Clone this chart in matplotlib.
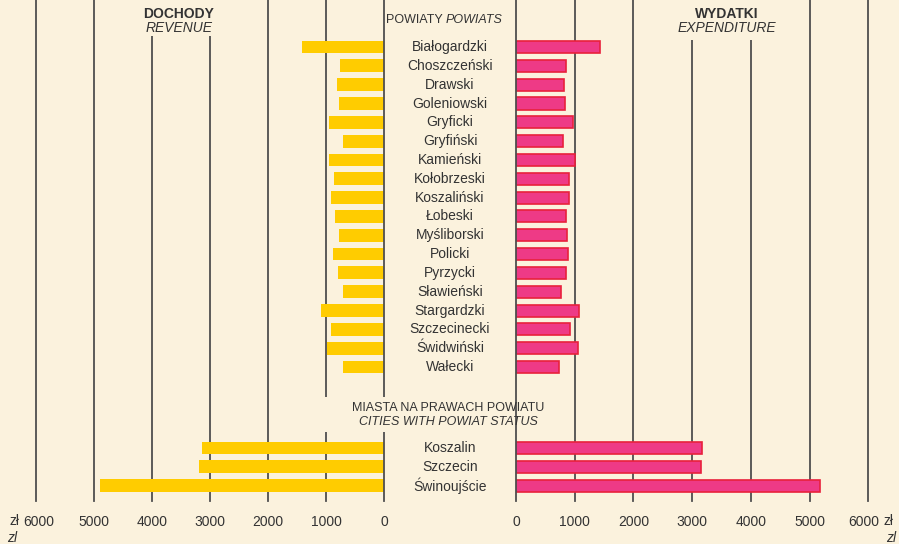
import matplotlib
matplotlib.use("Agg")
import matplotlib.pyplot as plt
from matplotlib.patches import Rectangle
from matplotlib.transforms import blended_transform_factory, ScaledTranslation

plt.rcParams['font.family'] = ['Liberation Sans', 'DejaVu Sans']

powiats = ["Białogardzki", "Choszczeński", "Drawski", "Goleniowski", "Gryficki",
           "Gryfiński", "Kamieński", "Kołobrzeski", "Koszaliński", "Łobeski",
           "Myśliborski", "Policki", "Pyrzycki", "Sławieński", "Stargardzki",
           "Szczecinecki", "Świdwiński", "Wałecki"]
revenue_powiats = [1411, 762, 814, 785, 952, 716, 946, 860, 912, 848, 785, 883,
                   797, 716, 1084, 912, 986, 716]
expend_powiats = [1431, 847, 812, 835, 971, 795, 1000, 903, 908, 847, 874, 880,
                  857, 767, 1079, 914, 1056, 738]

cities = ["Koszalin", "Szczecin", "Świnoujście"]
revenue_cities = [3138, 3195, 4893]
expend_cities = [3163, 3146, 5179]

ticks = [0, 1000, 2000, 3000, 4000, 5000, 6000]

BG = '#fbf2dd'
YELLOW = '#ffcc00'
PINK = '#ee3a86'
PINK_EDGE = '#e8213c'
GRID = '#4f4f4f'
TXT = '#333333'

W, H = 899, 544
fig = plt.figure(figsize=(W / 100, H / 100), dpi=100, facecolor=BG)

bottom_px = 501
ylim = (24.12, -2.5)

pos_p = list(range(len(powiats)))
pos_c = [21.3, 22.3, 23.3]

axL = fig.add_axes([35.7 / W, (H - bottom_px) / H, (384.3 - 35.7) / W, bottom_px / H])
axR = fig.add_axes([516 / W, (H - bottom_px) / H, (868.3 - 516) / W, bottom_px / H])

for ax in (axL, axR):
    ax.set_facecolor('none')
    for s in ax.spines.values():
        s.set_visible(False)
    ax.set_ylim(*ylim)
    ax.set_yticks([])
    ax.set_xticks(ticks)
    ax.set_xticklabels([str(t) for t in ticks])
    ax.tick_params(axis='x', length=0, pad=10, labelsize=10, colors=TXT)
    for t in ticks:
        ax.axvline(t, color=GRID, lw=1.3, zorder=(5 if t == 0 else 1), clip_on=False)

axL.set_xlim(6000, 0)
axR.set_xlim(0, 6000)

# nudge the 6000 labels away from the currency signs
for ax, dx in ((axL, 3), (axR, -5)):
    lab = ax.get_xticklabels()[-1]
    lab.set_transform(lab.get_transform() + ScaledTranslation(dx / 100, 0, fig.dpi_scale_trans))

axL.barh(pos_p, revenue_powiats, height=0.68, color=YELLOW, zorder=3)
axL.barh(pos_c, revenue_cities, height=0.68, color=YELLOW, zorder=3)
axR.barh(pos_p, expend_powiats, height=0.64, color=PINK, edgecolor=PINK_EDGE,
         lw=1.2, zorder=3)
axR.barh(pos_c, expend_cities, height=0.64, color=PINK, edgecolor=PINK_EDGE,
         lw=1.2, zorder=3)

# centre labels
tr = blended_transform_factory(fig.transFigure, axL.transData)
for p, name in zip(pos_p + pos_c, powiats + cities):
    axL.text(450 / W, p, name, transform=tr, ha='center', va='center',
             fontsize=10, color=TXT, clip_on=False)

def fx(px):
    return px / W

def fy(py):
    return 1 - py / H

# background patches that interrupt gridlines
for (x0, y0, x1, y1) in [(125, 0, 240, 36), (670, 0, 790, 40), (300, 397, 400, 432)]:
    fig.patches.append(Rectangle((fx(x0), fy(y1)), fx(x1) - fx(x0), (y1 - y0) / H,
                                 transform=fig.transFigure, facecolor=BG,
                                 edgecolor='none', zorder=2))

fig.text(fx(179), fy(14), "DOCHODY", ha='center', va='center', fontsize=10,
         fontweight='bold', color=TXT, zorder=4)
fig.text(fx(179), fy(28), "REVENUE", ha='center', va='center', fontsize=10,
         fontstyle='italic', color=TXT, zorder=4)
fig.text(fx(727), fy(14), "WYDATKI", ha='center', va='center', fontsize=10,
         fontweight='bold', color=TXT, zorder=4)
fig.text(fx(727), fy(28), "EXPENDITURE", ha='center', va='center', fontsize=10,
         fontstyle='italic', color=TXT, zorder=4)

fig.text(fx(414), fy(20), "POWIATY", ha='center', va='center', fontsize=9,
         color=TXT, zorder=4)
fig.text(fx(474), fy(20), "POWIATS", ha='center', va='center', fontsize=9,
         fontstyle='italic', color=TXT, zorder=4)

fig.text(fx(448), fy(408), "MIASTA NA PRAWACH POWIATU", ha='center', va='center',
         fontsize=9, color=TXT, zorder=4)
fig.text(fx(448), fy(422), "CITIES WITH POWIAT STATUS", ha='center', va='center',
         fontsize=9, fontstyle='italic', color=TXT, zorder=4)

# currency labels
fig.text(fx(20), fy(521), "zł", ha='right', va='center', fontsize=10, color=TXT)
fig.text(fx(7), fy(538), "zl", ha='left', va='center', fontsize=10,
         fontstyle='italic', color=TXT)
fig.text(fx(884), fy(521), "zł", ha='left', va='center', fontsize=10, color=TXT)
fig.text(fx(896), fy(538), "zl", ha='right', va='center', fontsize=10,
         fontstyle='italic', color=TXT)

fig.savefig("out.png", dpi=100, facecolor=BG)
